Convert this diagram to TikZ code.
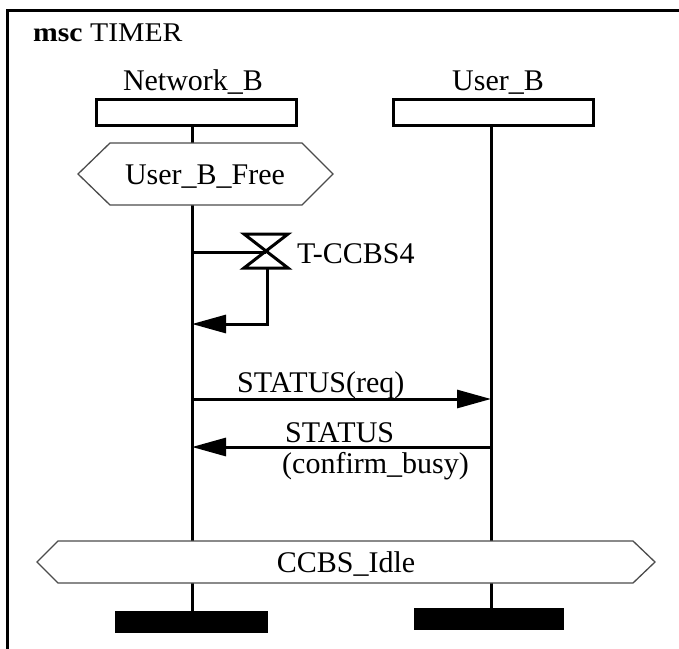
\documentclass[tikz,border=0pt]{standalone}
\usepackage{fontspec}
\setmainfont{Liberation Serif}
\usetikzlibrary{arrows.meta}
\begin{document}
\begin{tikzpicture}[x=1pt,y=-1pt,
  txt/.style={font=\fontsize{30}{32}\selectfont, inner sep=0pt},
  titletxt/.style={font=\fontsize{27}{29}\selectfont, inner sep=0pt},
  frameline/.style={line width=3pt},
  inst/.style={draw, line width=3pt, minimum width=200pt, minimum height=26pt, inner sep=0pt},
  life/.style={line width=3pt},
  cond/.style={line width=1.3pt, draw=black!70, fill=white},
  msgline/.style={line width=3pt},
  msg/.style={line width=3pt, -{Triangle[length=34pt,width=18pt]}},
  endbar/.style={fill=black, draw=none}]
\useasboundingbox (0,0) rectangle (679,648);
% frame
\draw[frameline] (7.5,650) -- (7.5,10.5) -- (681,10.5);
\node[titletxt, anchor=base west] (title) at (33,41) {\scalebox{1.1}[1]{\textbf{msc} TIMER}};
% instances
\node[txt, anchor=base] (nblabel) at (193,90) {Network\_B};
\node[inst] (nb) at (196.5,112.5) {};
\node[txt, anchor=base] (ublabel) at (498,90) {User\_B};
\node[inst] (ub) at (493,112.5) {};
% lifeline coordinates
\coordinate (nb0) at (192,126);
\coordinate (nb1) at (192,143);
\coordinate (nb2) at (192,205);
\coordinate (nb3) at (192,541);
\coordinate (nb4) at (192,583);
\coordinate (nb5) at (192,612);
\coordinate (ub0) at (491,126);
\coordinate (ub3) at (491,541);
\coordinate (ub4) at (491,583);
\coordinate (ub5) at (491,609);
\draw[life] (nb0) -- (nb1);
\draw[life] (nb2) -- (nb3);
\draw[life] (nb4) -- (nb5);
\draw[life] (ub0) -- (ub3);
\draw[life] (ub4) -- (ub5);
% condition User_B_Free
\draw[cond] (78,174) -- (110,143) -- (302,143) -- (333,174) -- (302,205) -- (110,205) -- cycle;
\node[txt, anchor=base] (c1) at (205,184) {User\_B\_Free};
% timer
\coordinate (tstart) at (192,252);
\coordinate (tx) at (266,252);
\coordinate (txb) at (267,268);
\coordinate (tcorner) at (267,324);
\coordinate (tend) at (192,324);
\draw[msgline] (tstart) -- (tx);
\draw[line width=3pt, line join=miter] (244,234) -- (288,234) -- (244,268) -- (288,268) -- cycle;
\draw[msgline] (txb) -- (tcorner) -- ++(-10,0);
\draw[msg] (tcorner) -- (tend);
\node[txt, anchor=base west] (tlabel) at (297,263) {T-CCBS4};
% messages
\coordinate (m1s) at (192,399);
\coordinate (m1e) at (491,399);
\draw[msg] (m1s) -- (m1e);
\node[txt, anchor=base west] (m1label) at (237,392) {STA\kern-2ptTUS(req)};
\coordinate (m2s) at (491,447);
\coordinate (m2e) at (192,447);
\draw[msg] (m2s) -- (m2e);
\node[txt, anchor=base west] (m2label) at (285,442) {STA\kern-2ptTUS};
\node[txt, anchor=base west] (m2label2) at (282,473) {(confirm\_busy)};
% condition CCBS_Idle
\draw[cond] (37,562) -- (58,541) -- (633,541) -- (655,562) -- (633,583) -- (58,583) -- cycle;
\node[txt, anchor=base] (c2) at (346,572) {CCBS\_Idle};
% end bars
\node[endbar, minimum width=153pt, minimum height=22pt, inner sep=0pt] (nbend) at (191.5,622) {};
\node[endbar, minimum width=150pt, minimum height=22pt, inner sep=0pt] (ubend) at (489,619) {};
\end{tikzpicture}
\end{document}
